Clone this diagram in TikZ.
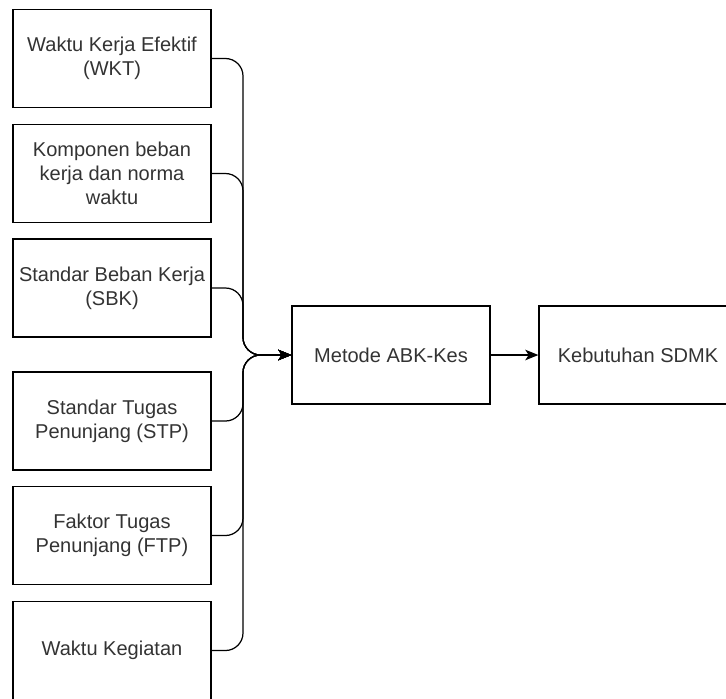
\documentclass[tikz,border=0pt]{standalone}
\usepackage{fontspec}
\setmainfont{Liberation Sans}
\usetikzlibrary{arrows.meta,positioning}
\tikzset{every picture/.style={line width=0.7pt}}
\tikzset{font=\fontsize{11.4}{13.6}\selectfont}
\tikzstyle{box}=[draw,rectangle,minimum width=198*0.02cm,minimum height=98*0.02cm,align=center,inner sep=0pt,text=black!80]
\begin{document}
\begin{tikzpicture}[x=0.02cm,y=-0.02cm]
\useasboundingbox (0,0) rectangle (726,698);
\node[box] (A1) at (112,58.5) {Waktu Kerja Efektif\\(WKT)};
\node[box] (A2) at (112,173.5) {Komponen beban\\kerja dan norma\\waktu};
\node[box] (A3) at (112,288) {Standar Beban Kerja\\(SBK)};
\node[box] (A4) at (112,421) {Standar Tugas\\Penunjang (STP)};
\node[box] (A5) at (112,535.5) {Faktor Tugas\\Penunjang (FTP)};
\node[box] (A6) at (112,650.5) {Waktu Kegiatan};
\node[box] (M) at (391,355) {Metode ABK-Kes};
\node[box] (S) at (638,355) {Kebutuhan SDMK};
\coordinate (J) at (243,355);
\path[-{Stealth[length=7.5pt,width=6pt,inset=2pt]},rounded corners=10]
(A1.east) edge[to path={-- (\tikztostart -| J) -- (J) -- (\tikztotarget)}] (M.west)
(A2.east) edge[to path={-- (\tikztostart -| J) -- (J) -- (\tikztotarget)}] (M.west)
(A3.east) edge[to path={-- (\tikztostart -| J) -- (J) -- (\tikztotarget)}] (M.west)
(A4.east) edge[to path={-- (\tikztostart -| J) -- (J) -- (\tikztotarget)}] (M.west)
(A5.east) edge[to path={-- (\tikztostart -| J) -- (J) -- (\tikztotarget)}] (M.west)
(A6.east) edge[to path={-- (\tikztostart -| J) -- (J) -- (\tikztotarget)}] (M.west)
(M) edge (S);
\end{tikzpicture}
\end{document}
